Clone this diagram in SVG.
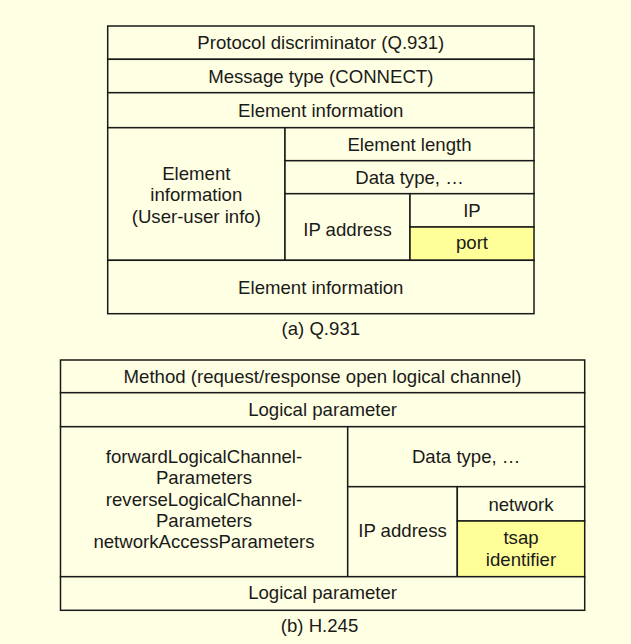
<svg xmlns="http://www.w3.org/2000/svg" width="631" height="644" viewBox="0 0 631 644">
<style>
.cell{fill:#FFFFE3;stroke:#1a1a1a;stroke-width:1.5}
.hl{fill:#FFFF99;stroke:#1a1a1a;stroke-width:1.5}
text{font-family:"Liberation Sans",Arial,sans-serif;font-size:18.6px;fill:#1a1a1a;text-anchor:middle}
</style>
<rect x="0" y="0" width="631" height="644" fill="#FFFFE3"/>
<g id="table-q931">
<g id="q-protocol"><rect class="cell" x="107.7" y="26" width="426.3" height="33.3"/><text x="320.8" y="49">Protocol discriminator (Q.931)</text></g>
<g id="q-msgtype"><rect class="cell" x="107.7" y="59.3" width="426.3" height="33.4"/><text x="320.8" y="83">Message type (CONNECT)</text></g>
<g id="q-elem1"><rect class="cell" x="107.7" y="92.7" width="426.3" height="35"/><text x="320.8" y="116.7">Element information</text></g>
<g id="q-uui"><rect class="cell" x="107.7" y="127.7" width="177.3" height="132.6"/><text x="196.3" y="180">Element</text><text x="196.3" y="201">information</text><text x="196.3" y="222.5">(User-user info)</text></g>
<g id="q-len"><rect class="cell" x="285" y="127.7" width="249" height="33"/><text x="409.5" y="151.2">Element length</text></g>
<g id="q-dtype"><rect class="cell" x="285" y="160.7" width="249" height="33"/><text x="409.5" y="184">Data type, …</text></g>
<g id="q-ipaddr"><rect class="cell" x="285" y="193.7" width="125" height="66.6"/><text x="347.5" y="236">IP address</text></g>
<g id="q-ip"><rect class="cell" x="410" y="193.7" width="124" height="33.3"/><text x="472" y="217">IP</text></g>
<g id="q-port"><rect class="hl" x="410" y="227" width="124" height="33.3"/><text x="472" y="249">port</text></g>
<g id="q-elem2"><rect class="cell" x="107.7" y="260.3" width="426.3" height="53.4"/><text x="320.8" y="294">Element information</text></g>
<text id="cap-a" x="320.8" y="335">(a) Q.931</text>
</g>
<g id="table-h245">
<g id="h-method"><rect class="cell" x="60.5" y="360" width="524.2" height="32.7"/><text x="322.6" y="382.7">Method (request/response open logical channel)</text></g>
<g id="h-logical1"><rect class="cell" x="60.5" y="392.7" width="524.2" height="34"/><text x="322.6" y="416">Logical parameter</text></g>
<g id="h-params"><rect class="cell" x="60.5" y="426.7" width="287.2" height="150"/><text x="204" y="462.7">forwardLogicalChannel-</text><text x="204" y="484">Parameters</text><text x="204" y="505.5">reverseLogicalChannel-</text><text x="204" y="527">Parameters</text><text x="204" y="548.3">networkAccessParameters</text></g>
<g id="h-dtype"><rect class="cell" x="347.7" y="426.7" width="237" height="60"/><text x="466.2" y="463.3">Data type, …</text></g>
<g id="h-ipaddr"><rect class="cell" x="347.7" y="486.7" width="109.6" height="90"/><text x="402.5" y="536.7">IP address</text></g>
<g id="h-network"><rect class="cell" x="457.3" y="486.7" width="127.4" height="34.3"/><text x="521" y="510.7">network</text></g>
<g id="h-tsap"><rect class="hl" x="457.3" y="521" width="127.4" height="55.7"/><text x="521" y="544">tsap</text><text x="521" y="566">identifier</text></g>
<g id="h-logical2"><rect class="cell" x="60.5" y="576.7" width="524.2" height="33.6"/><text x="322.6" y="599.3">Logical parameter</text></g>
<text id="cap-b" x="319.5" y="632.3">(b) H.245</text>
</g>
<g id="connectors"/>
</svg>
